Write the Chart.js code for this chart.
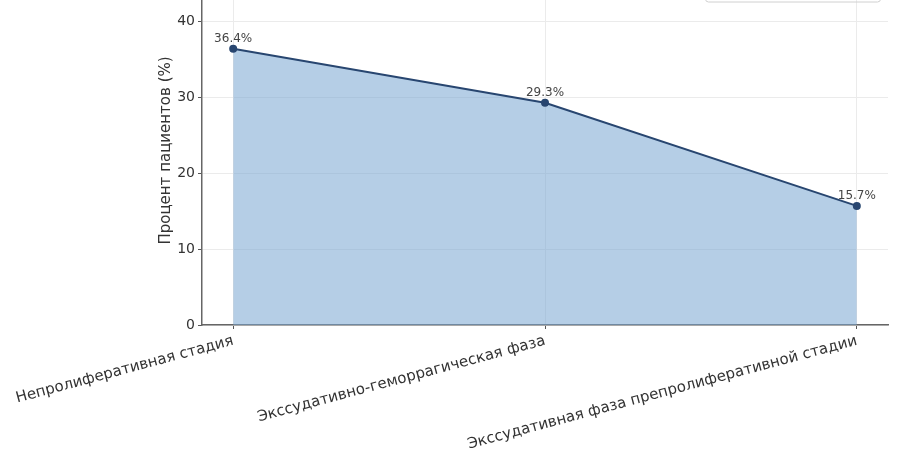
<!DOCTYPE html>
<html>
<head>
<meta charset="utf-8">
<script src="https://cdn.jsdelivr.net/npm/chart.js@4/dist/chart.umd.min.js"></script>
<style>
  html, body { margin: 0; padding: 0; background: #fff; overflow: hidden; }
  #wrap { width: 900px; height: 462px; overflow: hidden; }
  #chart { display: block; margin-top: -30px; }
</style>
</head>
<body>
<div id="wrap"><canvas id="chart" width="900" height="492"></canvas></div>
<script>
const stages = [
  "Непролиферативная стадия",
  "Экссудативно-геморрагическая фаза",
  "Экссудативная фаза препролиферативной стадии"
];
const percents = [36.4, 29.3, 15.7];
const yTicks = [0, 10, 20, 30, 40];

const lineColor = "#284670";

// подписи значений над точками
const valueLabels = {
  id: "valueLabels",
  afterDatasetsDraw(chart) {
    const ctx = chart.ctx;
    const meta = chart.getDatasetMeta(0);
    ctx.save();
    ctx.font = "12px 'DejaVu Sans'";
    ctx.fillStyle = "#444";
    ctx.textAlign = "center";
    ctx.textBaseline = "bottom";
    meta.data.forEach((pt, i) => {
      ctx.fillText(percents[i].toFixed(1) + "%", pt.x, pt.y - 4);
    });
    ctx.restore();
  }
};

// рамка легенды (видна только нижняя кромка)
const legendEdge = {
  id: "legendEdge",
  afterDraw(chart) {
    const ctx = chart.ctx;
    ctx.save();
    ctx.strokeStyle = "#d0d0d0";
    ctx.lineWidth = 1;
    ctx.beginPath();
    ctx.roundRect(705.5, 10, 175, 22, 3);
    ctx.stroke();
    ctx.restore();
  }
};

new Chart(document.getElementById("chart").getContext("2d"), {
  type: "line",
  data: {
    datasets: [{
      label: "Процент пациентов",
      data: percents.map((v, i) => ({ x: i, y: v })),
      borderColor: lineColor,
      borderWidth: 2,
      backgroundColor: "rgba(120, 165, 210, 0.55)",
      fill: "origin",
      pointRadius: 3,
      pointBackgroundColor: lineColor,
      pointBorderColor: lineColor,
      tension: 0
    }]
  },
  options: {
    responsive: false,
    animation: false,
    layout: { padding: { left: 150, right: 12, top: 0, bottom: 0 } },
    plugins: {
      legend: { display: false },
      tooltip: { enabled: false }
    },
    scales: {
      x: {
        type: "linear",
        min: -0.1,
        max: 2.1,
        afterBuildTicks: (scale) => { scale.ticks = stages.map((s, i) => ({ value: i })); },
        afterFit: (scale) => { scale.height = 137; },
        ticks: {
          autoSkip: false,
          minRotation: 15,
          maxRotation: 15,
          padding: 3,
          color: "#333",
          font: { family: "DejaVu Sans", size: 15 },
          callback: (v) => stages[v]
        },
        grid: {
          color: "#ebebeb",
          tickColor: "#555",
          tickLength: 4
        },
        border: { color: "#666", width: 1.5 }
      },
      y: {
        min: 0,
        max: 46,
        afterBuildTicks: (scale) => { scale.ticks = yTicks.map((v) => ({ value: v })); },
        afterFit: (scale) => {
          scale.width = 52;
          scale.paddingTop = 0;
          scale.paddingBottom = 0;
        },
        ticks: {
          padding: 3,
          color: "#333",
          font: { family: "DejaVu Sans", size: 14 }
        },
        grid: {
          color: "#ebebeb",
          tickColor: "#555",
          tickLength: 4
        },
        border: { color: "#666", width: 1.5 },
        title: {
          display: true,
          text: "Процент пациентов (%)",
          color: "#333",
          font: { family: "DejaVu Sans", size: 15 },
          padding: { top: 7, bottom: 2 }
        }
      }
    }
  },
  plugins: [valueLabels, legendEdge]
});
</script>
</body>
</html>
